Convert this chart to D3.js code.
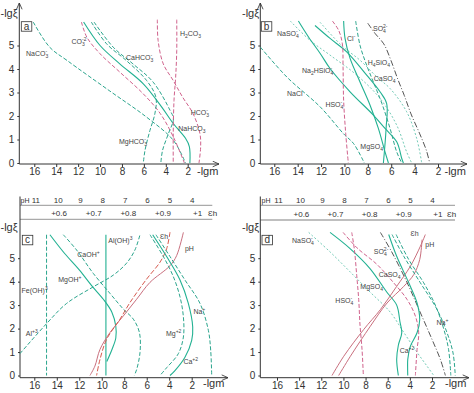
<!DOCTYPE html>
<html><head><meta charset="utf-8">
<script src="https://cdn.jsdelivr.net/npm/d3@7"></script>
<style>
body{margin:0;background:#fff;}
svg{display:block;font-family:Arial,"Liberation Sans",sans-serif;}
</style></head><body>
<svg id="chart" width="474" height="393"></svg>
<script>
// ---------- tick labels ----------
const xTicks = [16,14,12,10,8,6,4,2];
const yTicks = [0,1,2,3,4,5];
const phTicks = [11,10,9,8,7,6,5,4];
const ehTicks = [0.6,0.7,0.8,0.9,1.0];
const ehTickLabels = ["+0.6","+0.7","+0.8","+0.9","+1"];

// ---------- panel a : [-lgm, -lgξ] ----------
const a_NaCO3  = [[16.1,6.0],[14.6,4.93],[13.0,4.36],[9.1,3.06],[5.75,1.95],[3.3,0.96],[2.2,0]];
const a_CO3    = [[11.7,6.0],[11.2,5.35],[10.0,4.65],[8.2,3.87],[6.05,2.94],[4.5,2.1],[3.3,1.1],[2.3,0]];
const a_CaHCO3 = [[11.5,6.0],[10.0,5.0],[8.2,4.22],[6.05,3.37],[4.4,2.4],[3.3,1.67],[2.2,1.05],[1.85,0.7],[1.8,0]];
const a_MgHCO3 = [[10.8,6.0],[9.4,5.07],[7.6,4.36],[5.75,3.51],[4.9,2.8],[5.0,2.09],[5.45,1.38],[5.9,0.53],[6.05,0]];
const a_NaHCO3 = [[10.55,6.0],[8.8,4.93],[7.0,4.22],[5.15,3.44],[3.6,2.23],[3.3,1.88],[3.77,1.24],[4.3,0.53],[4.45,0]];
const a_H2CO3  = [[3.0,6.1],[3.0,4.79],[3.1,3.65],[3.25,2.66],[3.32,1.24],[3.32,0]];
const a_HCO3   = [[4.77,6.1],[4.7,5.21],[4.23,4.22],[3.32,3.51],[2.46,2.8],[1.5,2.09],[0.88,1.24],[0.82,0.67],[0.97,0]];

// ---------- panel b ----------
const b_NaCl     = [[17.19,4.93],[14.91,3.65],[12.06,2.38],[10.07,1.24],[9.21,0.82],[8.3,0]];
const b_NaSO4    = [[14.63,6.04],[12.92,5.21],[11.23,4.59],[8.95,3.74],[6.96,2.75],[5.53,1.61],[4.68,0.47],[4.25,0]];
const b_Na2HSiO4 = [[13.94,6.04],[13.06,5.35],[12.06,4.65],[11.23,4.02],[9.52,3.03],[7.53,2.04],[6.53,1.47],[5.53,0.90],[5.10,0.19],[4.96,0]];
const b_MgSO4    = [[12.52,5.85],[11.23,5.30],[9.81,4.73],[8.10,3.74],[6.96,3.03],[6.39,2.53],[6.44,1.47],[6.67,0]];
const b_CaSO4    = [[12.09,5.99],[10.24,5.0],[8.64,4.36],[7.21,3.65],[6.10,3.17],[4.68,2.18],[3.82,1.04],[3.39,0]];
const b_Cl       = [[10.07,6.04],[9.95,5.30],[9.52,4.45],[8.67,3.45],[7.81,2.46],[7.10,1.47],[6.53,0.47],[6.24,0]];
const b_H4SiO4   = [[9.04,6.04],[8.67,5.01],[8.10,4.16],[7.53,3.45],[6.79,2.52],[6.10,1.47],[5.53,0.47],[5.10,0]];
const b_HSO4     = [[11.03,6.04],[10.49,5.64],[10.18,5.07],[10.12,4.08],[10.07,2.66],[9.89,1.24],[9.67,0]];
const b_SO4      = [[8.01,5.95],[7.36,5.50],[6.64,5.07],[6.02,4.36],[5.45,3.58],[4.88,2.87],[4.31,2.09],[3.56,1.24],[2.99,0.53],[2.71,0]];

// ---------- panel c ----------
const c_FeOH3 = [[14.91,6.0],[14.91,0]];
const c_AlOH3 = [[9.63,6.0],[9.63,0]];
const c_Al3   = [[17.28,0.93],[14.91,2.21],[13.13,3.07],[10.75,3.78],[8.97,4.28],[7.79,4.79],[7.05,5.35],[6.60,6.0]];
const c_CaOH  = [[13.42,6.0],[12.24,5.35],[10.75,4.35],[9.27,3.50],[8.08,2.83],[7.19,2.40],[6.65,1.83],[6.60,0.97],[6.90,0.25],[7.1,0]];
const c_MgOH  = [[14.61,6.0],[13.3,5.2],[12.0,4.5],[10.9,3.83],[9.86,3.25],[9.1,2.7],[8.75,2.1],[8.75,1.6],[9.1,1.1],[9.55,0.6]];
const c_pH    = [[2.74,6.1],[3.34,5.11],[3.93,4.68],[5.71,3.97],[6.90,3.25],[8.08,2.54],[9.27,1.83],[10.16,1.11],[10.61,0.40],[11.05,0]];
const c_Eh    = [[3.93,6.11],[4.23,5.40],[4.82,4.83],[6.01,4.11],[7.49,3.11],[8.38,2.40],[9.57,1.54],[10.16,0.68],[10.46,0]];
const c_Mg    = [[5.71,6.0],[4.52,5.07],[3.63,4.21],[3.04,3.35],[2.74,2.50],[2.74,1.64],[3.19,0.93],[4.23,0.33],[4.82,0]];
const c_Ca    = [[5.47,6.0],[4.23,5.07],[3.04,4.07],[2.30,3.07],[1.91,2.07],[2.0,1.50],[2.6,0.78],[3.49,0.21],[3.93,0]];
const c_Na    = [[5.18,6.0],[3.93,5.07],[2.60,4.07],[1.26,3.07],[0.52,1.93],[0.31,1.07],[0.22,0]];

// ---------- panel d ----------
const d_NaSO4 = [[13.14,6.1],[11.21,5.27],[9.40,4.42],[7.60,3.56],[5.79,2.71],[4.58,1.86],[3.38,1.01],[2.45,0.40],[1.84,0]];
const d_MgSO4 = [[11.21,6.1],[9.40,5.41],[7.60,4.56],[6.09,3.56],[5.19,3.0],[4.89,2.28],[4.73,1.82],[5.04,1.29],[5.19,0.68],[5.04,0]];
const d_HSO4  = [[9.25,6.1],[9.01,5.37],[8.80,4.27],[8.62,3.24],[8.50,2.14],[8.32,1.11],[8.20,0]];
const d_CaSO4 = [[10.03,6.1],[8.77,5.44],[6.96,4.73],[5.46,3.95],[4.25,3.24],[3.50,2.53],[3.20,1.82],[3.35,1.11],[3.50,0]];
const d_SO4   = [[6.66,6.1],[5.64,5.27],[4.28,3.99],[3.08,2.71],[1.99,1.53],[1.24,0.68],[0.79,0]];
const d_Eh    = [[11.03,0],[9.97,0.82],[8.17,1.96],[6.66,2.81],[5.19,3.80],[3.95,4.66],[3.05,5.51],[2.60,6.01]];
const d_pH    = [[10.43,0],[9.37,0.82],[7.57,2.10],[6.06,3.09],[4.55,3.80],[3.65,4.30],[3.11,4.94],[2.90,5.79]];
const d_Ca    = [[5.91,6.01],[5.19,5.08],[4.10,3.95],[3.35,3.09],[3.11,2.38],[3.35,1.82],[3.95,1.25],[4.19,0.68],[4.19,0]];
const d_Na    = [[5.61,6.01],[4.55,5.08],[3.05,3.95],[1.54,2.81],[0.64,1.82],[0.10,0.96],[-0.1,0]];
const d_Na2   = [[5.24,6.01],[4.1,4.94],[2.75,3.95],[1.7,3.0],[0.95,2.0],[0.5,1.1],[0.3,0]];

// ---------- curve labels (text, -lgm, -lgξ) ----------
const labelsA = [["NaCO_3^-",16.76,4.57],["CO_3^{-2}",12.6,5.07],["CaHCO_3^-",7.63,4.39],["H_2CO_3",2.71,5.4],
                 ["HCO_3^-",1.73,2.05],["NaHCO_3",2.86,1.35],["MgHCO_3^-",8.27,0.82]];
const labelsB = [["NaSO_4^-",15.77,5.41],["Cl^-",9.78,5.18],["SO_4^{2-}",7.56,5.61],["Na_2HSiO_4^-",13.63,3.82],
                 ["H_4SiO_4",8.01,4.19],["CaSO_4",7.50,3.51],["NaCl",14.91,2.83],["HSO_4^-",11.63,2.40],["MgSO_4",8.64,0.59]];
const labelsC = [["Fe(OH)^3",17.13,3.50],["Al^{+3}",16.75,1.67],["MgOH^+",13.87,3.97],["CaOH^+",12.18,5.07],
                 ["Al(OH)^3",9.42,5.64],["Ɛh",4.82,5.81],["pH",2.6,5.31],["Na^+",1.85,2.61],["Mg^{+2}",4.29,1.67],["Ca^{+2}",2.74,0.47]];
const labelsD = [["NaSO_4^-",14.64,5.65],["SO_4^{2-}",7.26,5.20],["CaSO_4",6.81,4.19],["MgSO_4",8.47,3.69],["HSO_4^-",10.73,3.07],
                 ["Na^+",1.60,2.17],["Ca^{+2}",4.92,0.94],["Ɛh",3.95,5.96],["pH",2.60,5.48]];

// ---------- styles ----------
const styles = {
  tealSolid:{stroke:"#22b192",dash:null,w:1.1},
  tealDash:{stroke:"#2ba58d",dash:"4,2",w:1},
  tealDot:{stroke:"#74cbb7",dash:"2,2",w:1},
  pinkDash:{stroke:"#d0628c",dash:"4,2",w:1},
  pinkSolid:{stroke:"#c96f7e",dash:null,w:1},
  redDash:{stroke:"#d65a4e",dash:"5,2",w:1},
  grayDashDot:{stroke:"#555",dash:"6,2,1,2",w:1}
};

const panels = {
  a:{name:"a", series:[[a_NaCO3,"tealDash"],[a_CO3,"pinkDash"],[a_CaHCO3,"tealSolid"],[a_MgHCO3,"tealDash"],
      [a_NaHCO3,"tealDash"],[a_H2CO3,"pinkDash"],[a_HCO3,"pinkDash"]], labels:labelsA},
  b:{name:"b", series:[[b_NaCl,"tealDash"],[b_NaSO4,"tealDot"],[b_Na2HSiO4,"tealSolid"],[b_MgSO4,"tealSolid"],[b_CaSO4,"tealDot"],
      [b_Cl,"tealSolid"],[b_H4SiO4,"tealDash"],[b_HSO4,"pinkDash"],[b_SO4,"grayDashDot"]], labels:labelsB},
  c:{name:"c", series:[[c_FeOH3,"tealDash"],[c_AlOH3,"tealSolid"],[c_Al3,"tealDash"],[c_CaOH,"tealDash"],[c_MgOH,"tealSolid"],
      [c_pH,"pinkSolid"],[c_Eh,"redDash"],[c_Mg,"tealDash"],[c_Ca,"tealSolid"],[c_Na,"tealDash"]], labels:labelsC},
  d:{name:"d", series:[[d_NaSO4,"tealDot"],[d_MgSO4,"tealSolid"],[d_HSO4,"pinkDash"],[d_CaSO4,"pinkDash"],[d_SO4,"grayDashDot"],
      [d_Eh,"pinkSolid"],[d_pH,"pinkSolid"],[d_Ca,"tealSolid"],[d_Na,"tealDash"],[d_Na2,"tealDash"]], labels:labelsD}
};

// ---------- layout (pixels) ----------
const layout = {
  a:{x16:34.3,x2:187.7,y0:163,y5:45.5,yAx:19.3,xAy:164,xEnd:219,yTop:3,arrowTop:true,lgmX:197,lgmY:175,xiX:0.5,xiY:17,box:[21.3,21.7]},
  b:{x16:274.3,x2:438,y0:163,y5:45.5,yAx:260.3,xAy:164,xEnd:467,yTop:3,arrowTop:true,lgmX:444.5,lgmY:175,xiX:242,xiY:17,box:[261.3,21.7]},
  c:{x16:34.3,x2:191.7,y0:375.5,y5:258.2,yAx:20,xAy:377.7,xEnd:228,yTop:196.5,arrowTop:false,lgmX:203,lgmY:387,xiX:0.5,xiY:231,box:[22.3,235.3],
     top:{phY:205.3,ehY:219.3,x1:20,x2:212.3,phNameX:20.5,ehNameX:208}},
  d:{x16:277,x2:432,y0:375.5,y5:258.2,yAx:260.3,xAy:377.7,xEnd:469,yTop:196.5,arrowTop:false,lgmX:445,lgmY:387,xiX:242,xiY:231,box:[262,235.3],
     top:{phY:205.3,ehY:220,x1:260.3,x2:455,phNameX:261.5,ehNameX:447}}
};

const svg = d3.select("#chart");
const defs = svg.append("defs");
defs.append("marker").attr("id","arr").attr("viewBox","0 0 10 10").attr("refX",10).attr("refY",5)
  .attr("markerWidth",7).attr("markerHeight",7).attr("markerUnits","userSpaceOnUse").attr("orient","auto")
  .append("path").attr("d","M1,1L10,5L1,9").attr("fill","none").attr("stroke","#333").attr("stroke-width",1.2);

function parseLabel(s){
  const segs=[]; let cur=""; let i=0;
  while(i<s.length){
    const ch=s[i];
    if(ch==="_"||ch==="^"){
      if(cur){segs.push({t:cur,k:"n"});cur="";}
      i++; let t;
      if(s[i]==="{"){const j=s.indexOf("}",i); t=s.slice(i+1,j); i=j+1;} else {t=s[i]; i++;}
      segs.push({t:t,k:ch==="_"?"sub":"sup"});
    } else {cur+=ch;i++;}
  }
  if(cur) segs.push({t:cur,k:"n"});
  return segs;
}

function drawPanel(key){
  const L = layout[key], P = panels[key];
  const x = d3.scaleLinear().domain([16,2]).range([L.x16,L.x2]);
  const y = d3.scaleLinear().domain([0,5]).range([L.y0,L.y5]);
  const g = svg.append("g");

  // top pH / Eh scales
  if(L.top){
    const T = L.top;
    const ph = d3.scaleLinear().domain([11,4]).range([x(16)+1,x(2)]);
    const ehLgm = d3.scaleLinear().domain([0.6,1.0]).range([13.84,1.52]);
    const eh = d3.scaleLinear().domain([0.6,1.0]).range([x(ehLgm(0.6)),x(ehLgm(1.0))]);
    [T.phY,T.ehY].forEach(yy=>g.append("line").attr("x1",T.x1).attr("x2",T.x2).attr("y1",yy).attr("y2",yy)
        .attr("stroke","#aaa").attr("stroke-width",1.3));
    const pa = g.append("g").attr("transform",`translate(0,${T.phY})`)
      .call(d3.axisTop(ph).tickValues(phTicks).tickSize(0).tickPadding(2).tickFormat(d3.format("d")));
    pa.select(".domain").remove();
    pa.attr("font-size",8).attr("font-family","Arial,'Liberation Sans',sans-serif");
    pa.selectAll("text").attr("fill","#333");
    const ea = g.append("g").attr("transform",`translate(0,${T.ehY})`)
      .call(d3.axisTop(eh).tickValues(ehTicks).tickSize(0).tickPadding(3).tickFormat((d,i)=>ehTickLabels[i]));
    ea.select(".domain").remove();
    ea.attr("font-size",8).attr("font-family","Arial,'Liberation Sans',sans-serif");
    ea.selectAll("text").attr("fill","#333");
    g.append("text").attr("x",T.phNameX).attr("y",T.phY-2).attr("font-size",7).attr("fill","#333").text("pH");
    g.append("text").attr("x",T.ehNameX).attr("y",T.ehY-3).attr("font-size",8).attr("fill","#333").text("Ɛh");
  }

  // axis lines
  g.append("line").attr("x1",L.yAx).attr("x2",L.xEnd).attr("y1",L.xAy).attr("y2",L.xAy)
    .attr("stroke","#333").attr("stroke-width",1).attr("marker-end","url(#arr)");
  const ya = g.append("line").attr("x1",L.yAx).attr("x2",L.yAx).attr("y1",L.xAy).attr("y2",L.yTop)
    .attr("stroke","#333").attr("stroke-width",1);
  if(L.arrowTop) ya.attr("marker-end","url(#arr)");

  const xa = g.append("g").attr("transform",`translate(0,${L.xAy})`)
    .call(d3.axisBottom(x).tickValues(xTicks).tickSize(3).tickPadding(1).tickFormat(d3.format("d")));
  xa.select(".domain").remove();
  xa.attr("font-size",10).attr("font-family","Arial,'Liberation Sans',sans-serif");
  xa.selectAll("text").attr("fill","#333");
  xa.selectAll("line").attr("stroke","#333");

  const yaG = g.append("g").attr("transform",`translate(${L.yAx},0)`)
    .call(d3.axisLeft(y).tickValues(yTicks).tickSize(2).tickPadding(3).tickFormat(d3.format("d")));
  yaG.select(".domain").remove();
  yaG.attr("font-size",10).attr("font-family","Arial,'Liberation Sans',sans-serif");
  yaG.selectAll("text").attr("fill","#333");
  yaG.selectAll("line").attr("stroke","#333");

  g.append("text").attr("x",L.lgmX).attr("y",L.lgmY).attr("font-size",11).attr("fill","#333").text("-lgm");
  g.append("text").attr("x",L.xiX).attr("y",L.xiY).attr("font-size",11).attr("fill","#333").text("-lgξ");

  // panel letter box
  g.append("rect").attr("x",L.box[0]).attr("y",L.box[1]).attr("width",10.5).attr("height",9.5)
    .attr("fill","#fff").attr("stroke","#333").attr("stroke-width",0.8);
  g.append("text").attr("x",L.box[0]+5.25).attr("y",L.box[1]+7.8).attr("text-anchor","middle")
    .attr("font-size",10).attr("fill","#333").text(P.name);

  // curves
  const line = d3.line().x(d=>x(d[0])).y(d=>y(d[1])).curve(d3.curveCatmullRom.alpha(0.5));
  P.series.forEach(([data,st])=>{
    const s = styles[st];
    g.append("path").datum(data).attr("d",line).attr("fill","none")
      .attr("stroke",s.stroke).attr("stroke-width",s.w)
      .attr("stroke-dasharray",s.dash);
  });

  // labels
  P.labels.forEach(([str,lx,ly])=>{
    const t = g.append("text").attr("x",x(lx)).attr("y",y(ly)).attr("font-size",7).attr("fill","#444");
    let off=0, prev=null;
    parseLabel(str).forEach(sg=>{
      const target = sg.k==="sub"?2:(sg.k==="sup"?-3:0);
      const ts = t.append("tspan").text(sg.t).attr("dy",target-off);
      off = target;
      if(sg.k!=="n") ts.attr("font-size",5);
      if(sg.k==="sup" && prev && prev.k==="sub") ts.attr("dx",-prev.t.length*2.8);
      prev = sg;
    });
  });
}

["a","b","c","d"].forEach(drawPanel);
</script>
</body></html>
